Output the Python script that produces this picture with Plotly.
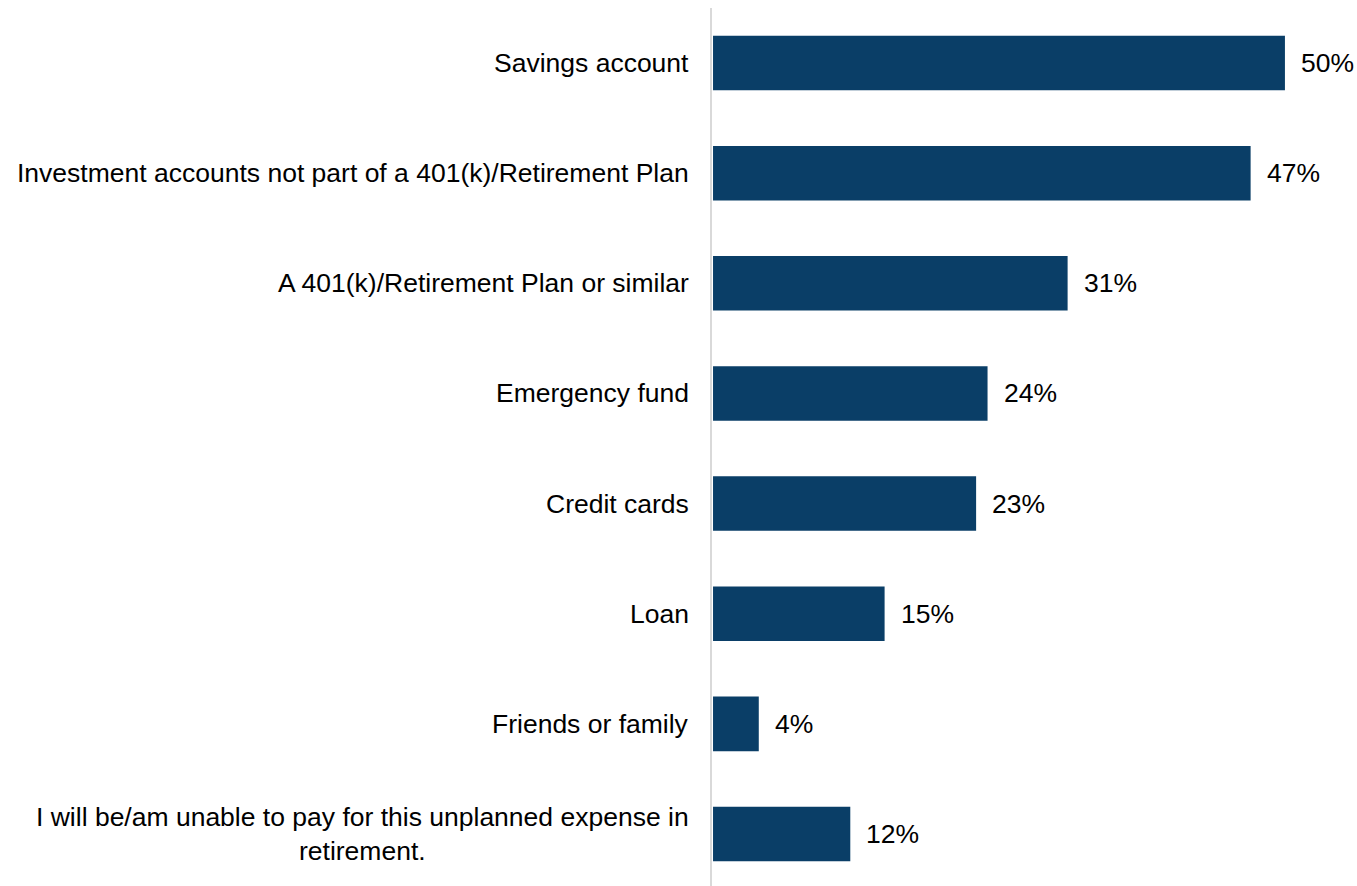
import plotly.graph_objects as go

categories = [
    "Savings account",
    "Investment accounts not part of a 401(k)/Retirement Plan",
    "A 401(k)/Retirement Plan or similar",
    "Emergency fund",
    "Credit cards",
    "Loan",
    "Friends or family",
    "I will be/am unable to pay for this unplanned expense in<br>retirement.",
]
values = [50, 47, 31, 24, 23, 15, 4, 12]
value_labels = ["50%", "47%", "31%", "24%", "23%", "15%", "4%", "12%"]

FONT = "Liberation Sans, Arial, sans-serif"
BAR_COLOR = "#0a3e67"
FONT_SIZE = 26.5

fig = go.Figure(
    go.Bar(
        x=values,
        y=categories,
        orientation="h",
        marker=dict(color=BAR_COLOR, line=dict(width=0)),
        width=0.495,
        hoverinfo="skip",
    )
)

# category labels, centred line by line, to the left of the axis
for cat in categories:
    fig.add_annotation(
        x=0, xref="paper", y=cat, yref="y",
        text=cat, showarrow=False,
        xanchor="right", yanchor="middle", align="center",
        xshift=-21,
        font=dict(family=FONT, size=FONT_SIZE, color="#000000"),
    )

# value labels at the end of each bar
for cat, v, lab in zip(categories, values, value_labels):
    fig.add_annotation(
        x=v, xref="x", y=cat, yref="y",
        text=lab, showarrow=False,
        xanchor="left", yanchor="middle",
        xshift=14,
        font=dict(family=FONT, size=FONT_SIZE, color="#000000"),
    )

fig.update_layout(
    width=1357, height=886,
    margin=dict(l=712, r=0, t=8, b=0),
    paper_bgcolor="white", plot_bgcolor="white",
    showlegend=False,
    xaxis=dict(range=[-0.09, 56.3], visible=False, fixedrange=True),
    yaxis=dict(
        range=[7.472, -0.5],
        showticklabels=False,
        ticks="",
        showgrid=False,
        zeroline=False,
        showline=True,
        linecolor="#d9d9d9",
        linewidth=2,
    ),
)

fig.write_html("out.html")
